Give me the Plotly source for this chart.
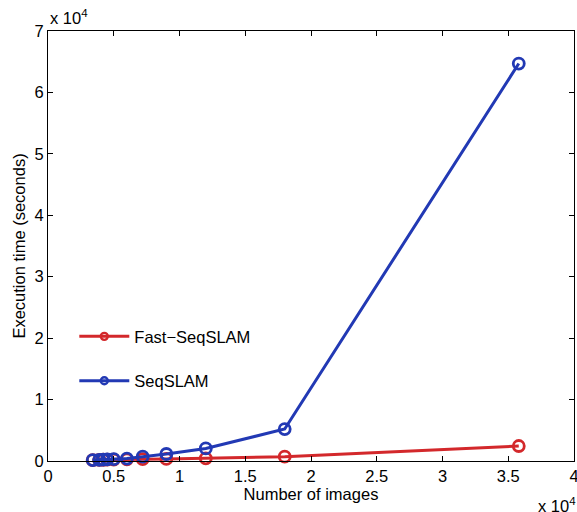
import plotly.graph_objects as go

# Data
n_images = [3400, 3900, 4200, 4500, 5000, 6000, 7200, 9000, 12000, 18000, 35800]
fast_seqslam = [150, 180, 200, 220, 240, 260, 300, 330, 440, 700, 2440]
seqslam = [150, 180, 220, 250, 300, 400, 700, 1140, 2050, 5200, 64700]
x_ticks = [0, 5000, 10000, 15000, 20000, 25000, 30000, 35000, 40000]
x_tick_labels = ["0", "0.5", "1", "1.5", "2", "2.5", "3", "3.5", "4"]
y_ticks = [0, 10000, 20000, 30000, 40000, 50000, 60000, 70000]
y_tick_labels = ["0", "1", "2", "3", "4", "5", "6", "7"]

RED = "#d3282b"
BLUE = "#2239b4"
FONT = "Liberation Sans, Arial, Helvetica, sans-serif"
FS = 16.5

fig = go.Figure()
for name, ys, col, grp in [("Fast\u2212SeqSLAM", fast_seqslam, RED, "a"),
                           ("SeqSLAM", seqslam, BLUE, "b")]:
    fig.add_trace(go.Scatter(
        x=n_images, y=ys, mode="lines+markers", name=name,
        line=dict(color=col, width=3),
        marker=dict(symbol="circle-open", size=11, color=col, line=dict(width=2.8, color=col)),
        showlegend=False, cliponaxis=False,
    ))
    fig.add_trace(go.Scatter(
        x=[None], y=[None], mode="lines+markers", name=name, legendgroup=grp,
        line=dict(color=col, width=3),
        marker=dict(symbol="circle-open", size=7, color=col, line=dict(width=2.4, color=col)),
    ))

axis_common = dict(
    showline=True, linecolor="black", linewidth=1, mirror="ticks",
    ticks="inside", ticklen=5, tickcolor="black", showgrid=False, zeroline=False,
    automargin=False, ticklabeloverflow="allow",
    tickfont=dict(family=FONT, size=FS, color="black"),
)
fig.update_xaxes(range=[0, 40000], tickvals=x_ticks, ticktext=x_tick_labels,
                 title=dict(text="Number of images", standoff=1,
                            font=dict(family=FONT, size=FS, color="black")),
                 **axis_common)
fig.update_yaxes(range=[0, 70000], tickvals=y_ticks, ticktext=y_tick_labels,
                 title=dict(text="Execution time (seconds)", standoff=4,
                            font=dict(family=FONT, size=FS, color="black")),
                 **axis_common)

fig.add_annotation(text="x 10<sup>4</sup>", xref="paper", yref="paper", x=0.0, y=1.0,
                   xanchor="left", yanchor="bottom", showarrow=False, yshift=2,
                   font=dict(family=FONT, size=FS, color="black"))
fig.add_annotation(text="x 10<sup>4</sup>", xref="paper", yref="paper", x=1.0, y=-0.102,
                   xanchor="right", yanchor="middle", showarrow=False, xshift=4,
                   font=dict(family=FONT, size=FS, color="black"))

fig.update_layout(
    width=577, height=512,
    margin=dict(l=48, r=3, t=31, b=51),
    plot_bgcolor="white", paper_bgcolor="white",
    legend=dict(x=0.05, y=0.33, xanchor="left", yanchor="top", itemwidth=50,
                bgcolor="rgba(0,0,0,0)", tracegroupgap=20, traceorder="grouped",
                font=dict(family=FONT, size=FS, color="black")),
)

fig.write_html("out.html", config={"displayModeBar": False},
               post_script="document.body.style.margin='0';")
